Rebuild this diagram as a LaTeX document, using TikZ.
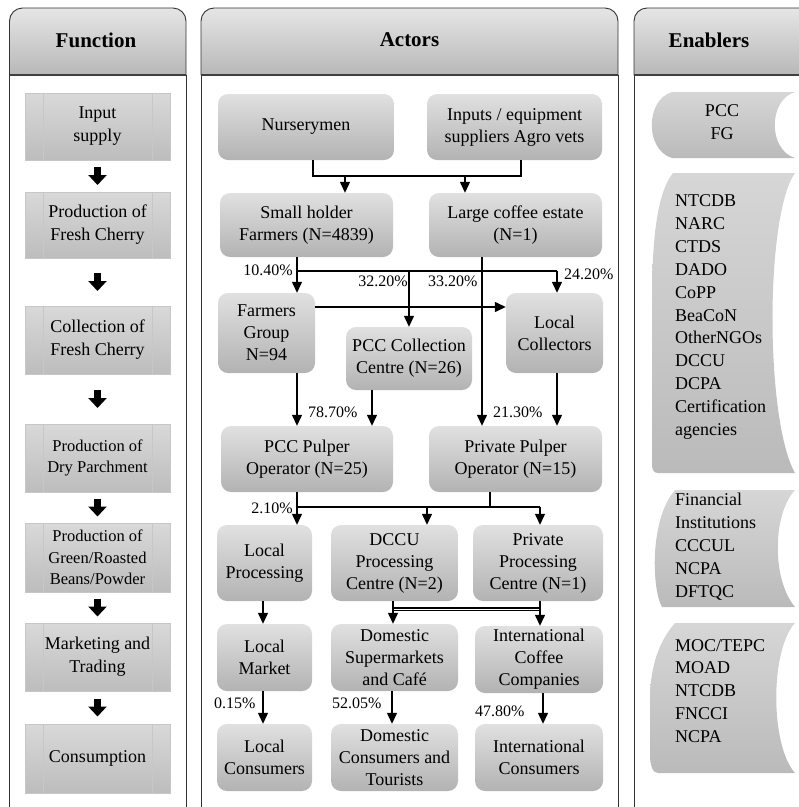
\documentclass[tikz,border=0pt]{standalone}
\usepackage{fontspec}
\setmainfont{Liberation Serif}
\usetikzlibrary{arrows.meta}
\begin{document}
\begin{tikzpicture}[x=1pt,y=-1pt,
  actor/.style={rounded corners=10pt, top color=black!12, bottom color=black!30, align=center,
    font=\fontsize{18}{22}\selectfont, inner sep=0pt},
  fnbox/.style={draw=black!22, line width=0.6pt, top color=black!15, bottom color=black!26,
    align=center, inner sep=0pt, minimum width=145pt, font=\fontsize{18}{23}\selectfont,
    path picture={\draw[black!22, line width=0.6pt]
      ([xshift=18pt]path picture bounding box.north west) -- ([xshift=18pt]path picture bounding box.south west)
      ([xshift=-18pt]path picture bounding box.north east) -- ([xshift=-18pt]path picture bounding box.south east);}},
  hdr/.style={draw=black!80, line width=0.9pt, top color=black!10, bottom color=black!28},
  hdrtxt/.style={font=\fontsize{21}{24}\selectfont\bfseries, inner sep=0pt},
  panel/.style={draw=black!80, line width=0.9pt},
  sep/.style={draw=black!75, line width=1.6pt},
  enab/.style={top color=black!16, bottom color=black!27},
  entxt/.style={font=\fontsize{18}{22.9}\selectfont, align=left, inner sep=0pt},
  pct/.style={font=\fontsize{16}{18}\selectfont, inner sep=0pt},
  ln/.style={line width=1.3pt},
  arr/.style={line width=1.3pt, -{Triangle[width=10pt,length=11pt]}},
  blk/.style={line width=7pt, -{Triangle[width=18pt,length=10pt]}}
]
\useasboundingbox (0,0) rectangle (799,807);
\clip (0,0) rectangle (799,807);

% ---------- panels ----------
\path[hdr] (9.5,75) [rounded corners=13pt] -- (9.5,8) -- (186,8) [sharp corners] -- (186,75) -- cycle;
\draw[panel] (9.5,75) -- (9.5,815) (186,75) -- (186,815);
\draw[sep] (9.5,75) -- (186,75);
\node[hdrtxt] (hfun) at (96,40) {Function};

\path[hdr] (201,75) [rounded corners=13pt] -- (201,8) -- (618,8) [sharp corners] -- (618,75) -- cycle;
\draw[panel] (201,75) -- (201,815) (618,75) -- (618,815);
\draw[sep] (201,75) -- (618,75);
\node[hdrtxt] (hact) at (409.5,40) {Actors};

\path[hdr] (634,75) [rounded corners=13pt] -- (634,8) -- (830,8) [sharp corners] -- (830,75) -- cycle;
\draw[panel] (634,75) -- (634,815);
\draw[sep] (634,75) -- (830,75);
\node[hdrtxt] (hen) at (709,40) {Enablers};

% ---------- function column ----------
\node[fnbox, minimum height=67pt] (fn1) at (97.5,126.5) {Input\\supply};
\node[fnbox, minimum height=66pt] (fn2) at (97.5,225) {Production of\\Fresh Cherry};
\node[fnbox, minimum height=68pt] (fn3) at (97.5,340) {Collection of\\Fresh Cherry};
\node[fnbox, minimum height=68pt, font=\fontsize{16.5}{21}\selectfont] (fn4) at (97.5,458) {Production of\\Dry Parchment};
\node[fnbox, minimum height=69pt, font=\fontsize{16.5}{21.5}\selectfont] (fn5) at (97.5,557.5) {Production of\\Green/Roasted\\Beans/Powder};
\node[fnbox, minimum height=68pt] (fn6) at (97.5,657) {Marketing and\\Trading};
\node[fnbox, minimum height=69pt] (fn7) at (97.5,758.5) {Consumption};

\foreach \a/\b in {fn1/fn2,fn2/fn3,fn3/fn4,fn4/fn5,fn5/fn6,fn6/fn7}{
  \path (\a.south) -- (\b.north) coordinate[pos=0.5] (m\a);
  \draw[blk] ([yshift=9pt]m\a) -- ([yshift=-9pt]m\a);
}

% ---------- actors ----------
\node[actor, minimum width=176pt, minimum height=66pt] (nurs) at (306,127) {Nurserymen};
\node[actor, minimum width=175pt, minimum height=66pt] (inp) at (514.5,127) {Inputs / equipment\\suppliers Agro vets};
\node[actor, minimum width=173pt, minimum height=64pt] (small) at (306.5,225) {Small holder\\Farmers (N=4839)};
\node[actor, minimum width=173pt, minimum height=64pt] (large) at (515.5,225) {Large coffee estate\\(N=1)};
\node[actor, minimum width=97pt, minimum height=80pt] (fg) at (266.5,333) {Farmers\\Group\\N=94};
\node[actor, minimum width=126pt, minimum height=63pt] (pcccc) at (409,358.5) {PCC Collection\\Centre (N=26)};
\node[actor, minimum width=97pt, minimum height=80pt] (lc) at (554.5,333) {Local\\Collectors};
\node[actor, minimum width=172pt, minimum height=66pt] (pccp) at (307,459) {PCC Pulper\\Operator (N=25)};
\node[actor, minimum width=173pt, minimum height=66pt] (privp) at (515.5,459) {Private Pulper\\Operator (N=15)};
\node[actor, minimum width=95pt, minimum height=76pt] (lproc) at (264.5,563) {Local\\Processing};
\node[actor, minimum width=127pt, minimum height=76pt] (dccu) at (394.5,563) {DCCU\\Processing\\Centre (N=2)};
\node[actor, minimum width=130pt, minimum height=76pt] (pproc) at (538,563) {Private\\Processing\\Centre (N=1)};
\node[actor, minimum width=95pt, minimum height=67pt] (lmkt) at (264.5,657.5) {Local\\Market};
\node[actor, minimum width=127pt, minimum height=67pt] (dsup) at (394.5,657.5) {Domestic\\Supermarkets\\and Café};
\node[actor, minimum width=128pt, minimum height=67pt] (icc) at (539,659.5) {International\\Coffee\\Companies};
\node[actor, minimum width=95pt, minimum height=67pt] (lcons) at (264.5,757.5) {Local\\Consumers};
\node[actor, minimum width=127pt, minimum height=67pt] (dcons) at (394.5,757.5) {Domestic\\Consumers and\\Tourists};
\node[actor, minimum width=128pt, minimum height=67pt] (icons) at (539,757.5) {International\\Consumers};

% ---------- connectors ----------
\coordinate (a1) at (313,176); \coordinate (a2) at (521,176);
\coordinate (a3) at (345,176); \coordinate (a4) at (465,176);
\draw[ln] (a1 |- nurs.south) -- (a1) -- (a2) -- (a2 |- inp.south);
\draw[arr] (a3) -- (a3 |- small.north);
\draw[arr] (a4) -- (a4 |- large.north);

\coordinate (b1) at (297,271); \coordinate (b2) at (557,271); \coordinate (b3) at (409,271);
\draw[ln] (b1 |- small.south) -- (b1) -- (b2);
\draw[arr] (b1) -- (b1 |- fg.north);
\draw[arr] (b2) -- (b2 |- lc.north);
\draw[arr] (b3) -- (b3 |- pcccc.north);
\coordinate (c1) at (482,0);
\draw[arr] (c1 |- large.south) -- (c1 |- privp.north);
\coordinate (d1) at (0,307);
\draw[arr] (fg.east |- d1) -- (lc.west |- d1);

\coordinate (e1) at (297,0); \coordinate (e2) at (372,0); \coordinate (e3) at (557,0);
\draw[arr] (e1 |- fg.south) -- (e1 |- pccp.north);
\draw[arr] (e2 |- pcccc.south) -- (e2 |- pccp.north);
\draw[arr] (e3 |- lc.south) -- (e3 |- privp.north);

\coordinate (p1) at (297,507); \coordinate (p2) at (540,507);
\coordinate (p3) at (490,507); \coordinate (p4) at (427,507);
\draw[ln] (p1 |- pccp.south) -- (p1) -- (p2);
\draw[ln] (p3 |- privp.south) -- (p3);
\draw[arr] (p1) -- (p1 |- lproc.north);
\draw[arr] (p4) -- (p4 |- dccu.north);
\draw[arr] (p2) -- (p2 |- pproc.north);

\coordinate (g1) at (263,0);
\draw[arr] (g1 |- lproc.south) -- (g1 |- lmkt.north);
\coordinate (h1) at (393,608); \coordinate (h2) at (540,608);
\draw[arr] (h1 |- dccu.south) -- (h1 |- dsup.north);
\draw[arr] (h2 |- pproc.south) -- (h2 |- icc.north);
\draw[ln] (h1) -- (h2);
\draw[line width=0.8pt] ([yshift=-2.5pt]h1) -- ([yshift=-2.5pt]h2);
\draw[arr] (g1 |- lmkt.south) -- (g1 |- lcons.north);
\coordinate (k1) at (392,0); \coordinate (k2) at (543,0);
\draw[arr] (k1 |- dsup.south) -- (k1 |- dcons.north);
\draw[arr] (k2 |- icc.south) -- (k2 |- icons.north);

% ---------- percentage labels ----------
\node[pct, anchor=east] (l1) at (293,270) {10.40\%};
\node[pct, anchor=east] (l2) at (408,281) {32.20\%};
\node[pct, anchor=west] (l3) at (428,281) {33.20\%};
\node[pct, anchor=west] (l4) at (564,274) {24.20\%};
\node[pct, anchor=west] (l5) at (308,412) {78.70\%};
\node[pct, anchor=west] (l6) at (493,412) {21.30\%};
\node[pct, anchor=east] (l7) at (293,508) {2.10\%};
\node[pct, anchor=west] (l8) at (214,703) {0.15\%};
\node[pct, anchor=west] (l9) at (332,703) {52.05\%};
\node[pct, anchor=west] (l10) at (475,711) {47.80\%};

% ---------- enablers ----------
\path[enab] (672,92) -- (795,92) .. controls (768,100) and (768,150) .. (795,158)
  -- (672,158) .. controls (645,150) and (645,100) .. (672,92) -- cycle;
\node[entxt, align=center] (en1) at (722,122.5) {PCC\\FG};

\path[enab] (673,173) -- (795,173) .. controls (765,215) and (765,420) .. (795,473)
  -- (658,473) .. controls (654,473) and (652,470) .. (652,465)
  -- (652,300) .. controls (652,230) and (659,190) .. (673,173) -- cycle;
\node[entxt, anchor=west] (en2) at (675,317) {NTCDB\\NARC\\CTDS\\DADO\\CoPP\\BeaCoN\\OtherNGOs\\DCCU\\DCPA\\Certification\\agencies};

\path[enab] (675,490) -- (795,490) .. controls (772,515) and (772,580) .. (795,607)
  -- (662,607) .. controls (652,590) and (649,520) .. (675,490) -- cycle;
\node[entxt, anchor=west] (en3) at (675,547) {Financial\\Institutions\\CCCUL\\NCPA\\DFTQC};

\path[enab] (675,623) -- (795,623) .. controls (770,650) and (770,745) .. (795,773)
  -- (658,773) .. controls (652,773) and (650,765) .. (650,750)
  -- (650,700) .. controls (650,665) and (660,640) .. (675,623) -- cycle;
\node[entxt, anchor=west] (en4) at (675,691) {MOC/TEPC\\MOAD\\NTCDB\\FNCCI\\NCPA};

\end{tikzpicture}
\end{document}
